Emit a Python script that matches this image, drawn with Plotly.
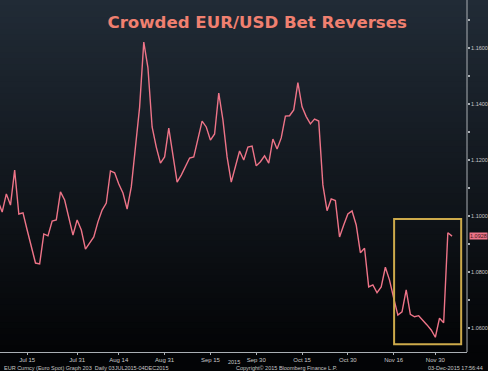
import pandas as pd
import plotly.graph_objects as go

# ---- data -------------------------------------------------------------
dates = [d.strftime("%Y-%m-%d") for d in pd.bdate_range("2015-07-03", "2015-12-04")]
eurusd = [
    1.1111, 1.1054, 1.1014, 1.1079, 1.1039, 1.1164, 1.1007, 1.1011, 1.0950, 1.0889,
    1.0832, 1.0829, 1.0936, 1.0929, 1.0982, 1.0986, 1.1086, 1.1057, 1.0993, 1.0932,
    1.0986, 1.0950, 1.0882, 1.0904, 1.0925, 1.0979, 1.1021, 1.1046, 1.1161, 1.1154,
    1.1114, 1.1082, 1.1025, 1.1104, 1.1246, 1.1389, 1.1621, 1.1529, 1.1318, 1.1246,
    1.1189, 1.1211, 1.1314, 1.1225, 1.1121, 1.1146, 1.1175, 1.1207, 1.1211, 1.1275,
    1.1339, 1.1318, 1.1271, 1.1293, 1.1439, 1.1343, 1.1211, 1.1121, 1.1179, 1.1232,
    1.1200, 1.1246, 1.1250, 1.1179, 1.1194, 1.1215, 1.1189, 1.1275, 1.1239, 1.1279,
    1.1357, 1.1358, 1.1379, 1.1476, 1.1390, 1.1355, 1.1329, 1.1346, 1.1339, 1.1111,
    1.1019, 1.1061, 1.1055, 1.0925, 1.0968, 1.1007, 1.1018, 1.0968, 1.0869, 1.0885,
    1.0747, 1.0754, 1.0726, 1.0747, 1.0817, 1.0771, 1.0707, 1.0646, 1.0658, 1.0736,
    1.0649, 1.0640, 1.0644, 1.0629, 1.0611, 1.0593, 1.0567, 1.0635, 1.0619, 1.0940,
    1.0928,
]
x_tick_dates = ["2015-07-15", "2015-07-31", "2015-08-14", "2015-08-31", "2015-09-15",
                "2015-09-30", "2015-10-15", "2015-10-30", "2015-11-16", "2015-11-30"]
x_tick_labels = ["Jul 15", "Jul 31", "Aug 14", "Aug 31", "Sep 15",
                 "Sep 30", "Oct 15", "Oct 30", "Nov 16", "Nov 30"]
y_tick_vals = [1.06, 1.08, 1.10, 1.12, 1.14, 1.16]
y_tick_labels = ["1.0600", "1.0800", "1.1000", "1.1200", "1.1400", "1.1600"]
last_label = "1.0928"
year_label = "2015"

title = "Crowded EUR/USD Bet Reverses"
footer_left = "EUR Curncy (Euro Spot) Graph 203  Daily 03JUL2015-04DEC2015"
footer_mid = "Copyright\u00a9 2015 Bloomberg Finance L.P."
footer_right = "03-Dec-2015 17:56:44"

# ---- figure -----------------------------------------------------------
W, H = 488, 371
LINE = "rgb(238,116,136)"
AXIS = "rgb(170,175,180)"
TXT = "rgb(200,200,200)"

fig = go.Figure()
fig.add_trace(go.Scatter(x=dates, y=eurusd, mode="lines",
                         line=dict(color=LINE, width=1.4), hoverinfo="skip"))

# background gradient
shapes = []
n = 60
top = (33, 43, 54)
bot = (3, 4, 6)
for k in range(n):
    t = k / (n - 1)
    c = tuple(int(round(top[j] + (bot[j] - top[j]) * t)) for j in range(3))
    y1 = 1 - k / n
    y0 = 1 - (k + 1) / n
    shapes.append(dict(type="rect", xref="paper", yref="paper", x0=0, x1=1.05,
                       y0=y0 - 0.001, y1=y1 + 0.001, line=dict(width=0),
                       fillcolor="rgb(%d,%d,%d)" % c, layer="below"))
# highlight box
shapes.append(dict(type="rect", xref="x", yref="y", x0=96.1, x1=112.2, y0=1.0542, y1=1.0989,
                   line=dict(color="rgb(205,170,75)", width=2), fillcolor="rgba(0,0,0,0)"))
# right axis line
shapes.append(dict(type="line", xref="paper", yref="paper", x0=1, x1=1, y0=0, y1=1,
                   line=dict(color=AXIS, width=1)))

fig.update_layout(
    width=W, height=H,
    margin=dict(l=0, r=19, t=0, b=19),
    paper_bgcolor="rgb(3,4,6)",
    plot_bgcolor="rgba(0,0,0,0)",
    showlegend=False,
    shapes=shapes,
    title=dict(text="<b>%s</b>" % title, x=0.527, xanchor="center", y=1 - 22 / H,
               yanchor="middle", yref="container",
               font=dict(family="DejaVu Sans", size=16.6, color="rgb(240,128,112)")),
    xaxis=dict(type="category", range=[1.48, 113.6], tickmode="array",
               tickvals=x_tick_dates, ticktext=x_tick_labels, showgrid=False,
               zeroline=False, showline=True, linecolor=AXIS, linewidth=1,
               ticks="outside", ticklen=2, tickcolor=AXIS,
               tickfont=dict(family="Liberation Sans", size=6, color=TXT)),
    yaxis=dict(range=[1.05143, 1.17714], side="right", tickmode="array",
               tickvals=y_tick_vals, ticktext=y_tick_labels, showgrid=False,
               zeroline=False, showline=False, ticks="outside", ticklen=2,
               tickcolor=AXIS, tickwidth=2,
               minor=dict(dtick=0.01, ticks="outside", ticklen=2, tickcolor=AXIS),
               tickfont=dict(family="Liberation Sans", size=5.5, color=TXT)),
)

fig.add_annotation(x=1, xref="paper", xanchor="left", xshift=2, y=eurusd[-1], yref="y",
                   text=last_label, showarrow=False, bgcolor=LINE,
                   font=dict(family="Liberation Sans", size=5.5, color="rgb(60,20,25)"),
                   borderpad=0)
fig.add_annotation(x=235 / 469, xref="paper", xanchor="center", y=0, yref="paper",
                   yshift=-10, yanchor="middle", text=year_label, showarrow=False,
                   font=dict(family="Liberation Sans", size=5.5, color=TXT))
fig.add_annotation(x=2 / 469, xref="paper", xanchor="left", y=0, yref="paper", yshift=-16,
                   yanchor="middle", text=footer_left, showarrow=False,
                   font=dict(family="Liberation Sans", size=5.5, color=TXT))
fig.add_annotation(x=288 / 469, xref="paper", xanchor="center", y=0, yref="paper", yshift=-16,
                   yanchor="middle", text=footer_mid, showarrow=False,
                   font=dict(family="Liberation Sans", size=5.5, color=TXT))
fig.add_annotation(x=487 / 469, xref="paper", xanchor="right", y=0, yref="paper", yshift=-16,
                   yanchor="middle", text=footer_right, showarrow=False,
                   font=dict(family="Liberation Sans", size=5.5, color=TXT))

fig.write_html("out.html",
               config={"displayModeBar": False},
               post_script="document.body.style.margin='0';document.body.style.padding='0';"
                           "document.body.style.overflow='hidden';"
                           "document.body.style.background='rgb(3,4,6)';")
